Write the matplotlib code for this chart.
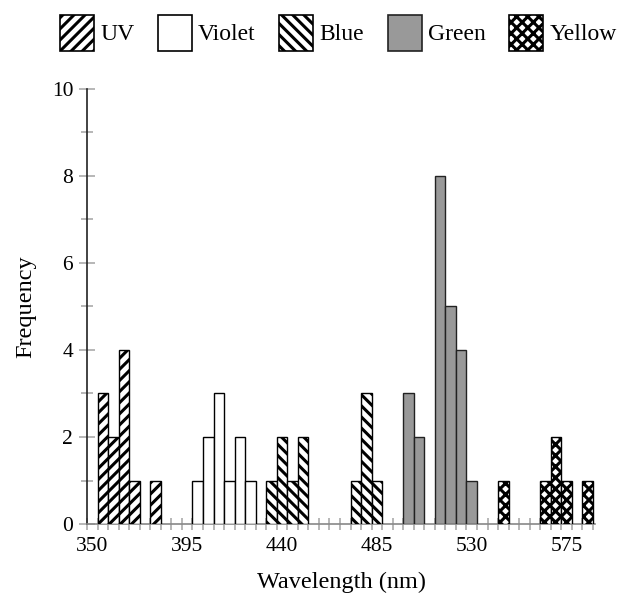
import matplotlib
matplotlib.use("Agg")
import matplotlib.pyplot as plt
from matplotlib.patches import Patch
from matplotlib.ticker import MultipleLocator, FixedLocator

# ---- data (bin left edges in nm, 5 nm wide bins) ----
bin_width = 5
uv_bins = [350, 355, 360, 365, 375]
uv_counts = [3, 2, 4, 1, 1]
violet_bins = [395, 400, 405, 410, 415, 420]
violet_counts = [1, 2, 3, 1, 2, 1]
blue_bins = [430, 435, 440, 445, 470, 475, 480]
blue_counts = [1, 2, 1, 2, 1, 3, 1]
green_bins = [495, 500, 510, 515, 520, 525]
green_counts = [3, 2, 8, 5, 4, 1]
yellow_bins = [540, 560, 565, 570, 580]
yellow_counts = [1, 1, 2, 1, 1]

series_names = ["UV", "Violet", "Blue", "Green", "Yellow"]
x_tick_labels = [350, 395, 440, 485, 530, 575]
y_tick_labels = [0, 2, 4, 6, 8, 10]

plt.rcParams["font.family"] = ["Liberation Serif", "DejaVu Serif"]
plt.rcParams["hatch.linewidth"] = 2.2
plt.rcParams["hatch.color"] = "black"

styles = {
    "UV": dict(facecolor="white", hatch="///", edgecolor="black"),
    "Violet": dict(facecolor="white", hatch="", edgecolor="black"),
    "Blue": dict(facecolor="white", hatch="\\\\\\", edgecolor="black"),
    "Green": dict(facecolor="#999999", hatch="", edgecolor="#222222"),
    "Yellow": dict(facecolor="white", hatch="xxx", edgecolor="black"),
}
data = {
    "UV": (uv_bins, uv_counts),
    "Violet": (violet_bins, violet_counts),
    "Blue": (blue_bins, blue_counts),
    "Green": (green_bins, green_counts),
    "Yellow": (yellow_bins, yellow_counts),
}

fig = plt.figure(figsize=(6.31, 5.99), dpi=100)
ax = fig.add_axes([0.138, 0.125, 0.805, 0.727])

for name in series_names:
    b, c = data[name]
    ax.bar(b, c, width=bin_width, align="edge", linewidth=1.0, zorder=3, **styles[name])

ax.set_xlim(345, 586)
ax.set_ylim(0, 10)

for s in ["top", "right"]:
    ax.spines[s].set_visible(False)
ax.spines["left"].set_color("#222222")
ax.spines["bottom"].set_color("#888888")
ax.spines["left"].set_linewidth(1.2)
ax.spines["bottom"].set_linewidth(1.2)

# x: small through-ticks every 5 nm, labels centred on the bin ending at the label value
ax.xaxis.set_minor_locator(MultipleLocator(5))
ax.xaxis.set_major_locator(FixedLocator([v - bin_width / 2 for v in x_tick_labels]))
ax.set_xticklabels([str(v) for v in x_tick_labels])
ax.tick_params(axis="x", which="major", length=0, pad=9, labelsize=15.5)
ax.tick_params(axis="x", which="minor", direction="inout", length=8.5, width=1.2, color="#aaaaaa")

ax.set_yticks(y_tick_labels)
ax.yaxis.set_minor_locator(MultipleLocator(1))
ax.tick_params(axis="y", which="major", direction="inout", length=12, width=1.2,
               color="#aaaaaa", labelsize=15.5, pad=4)
ax.tick_params(axis="y", which="minor", direction="inout", length=8, width=1.2, color="#aaaaaa")

ax.set_xlabel("Wavelength (nm)", fontsize=17.5, labelpad=12)
ax.set_ylabel("Frequency", fontsize=17.5, labelpad=11)

handles = [Patch(linewidth=1.2, **styles[n]) for n in series_names]
fig.legend(handles, series_names, loc="center", bbox_to_anchor=(0.536, 0.945), ncol=5,
           frameon=False, fontsize=17, handlelength=1.45, handleheight=2.0,
           handletextpad=0.25, columnspacing=1.0)

fig.savefig("out.png", dpi=100)
